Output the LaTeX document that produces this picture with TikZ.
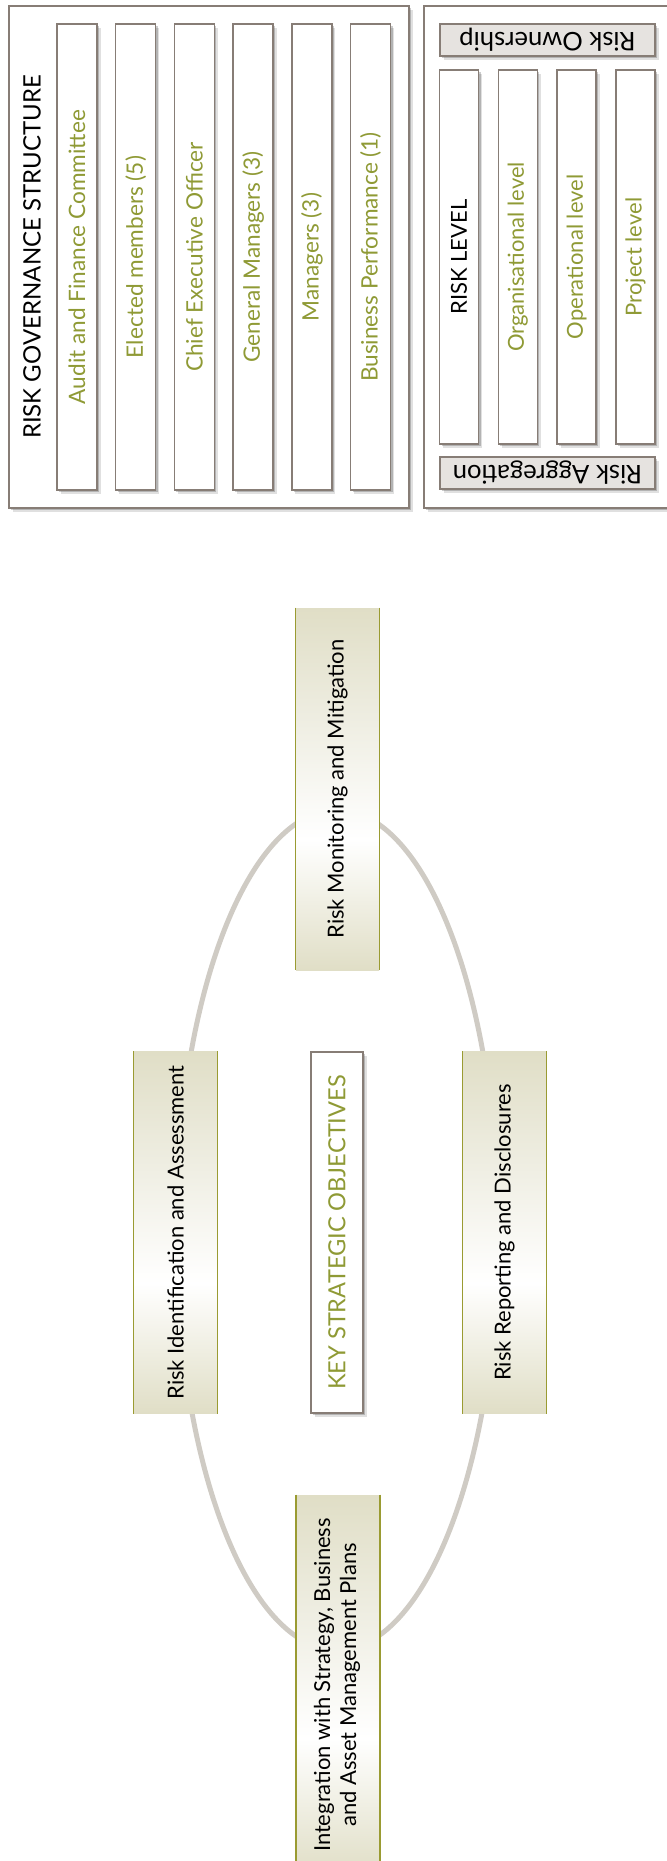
\documentclass[tikz,border=0pt]{standalone}
\usepackage{fontspec}
\setmainfont{Lato}
\usepackage{graphicx}
\usetikzlibrary{shadows}

\definecolor{olivetext}{HTML}{8F9A35}
\definecolor{oliveline}{HTML}{9A9B32}
\definecolor{beige}{HTML}{E0DEC6}
\definecolor{beigelight}{HTML}{EEEDE1}
\definecolor{boxline}{HTML}{877D76}
\definecolor{tagfill}{HTML}{E6E3E0}
\definecolor{ringgray}{HTML}{CFCBC4}

\pgfdeclareverticalshading{stageshade}{100bp}{color(0bp)=(beige); color(25bp)=(beige); color(43bp)=(white); color(60bp)=(beigelight); color(75bp)=(beige); color(100bp)=(beige)}

\newcommand{\vtext}[1]{\rotatebox{90}{#1}}

\tikzset{
    softshadow/.style={drop shadow={shadow xshift=1.8pt, shadow yshift=-1.8pt, fill=black, opacity=0.12},
        drop shadow={shadow xshift=1pt, shadow yshift=-1pt, fill=black, opacity=0.2}},
    panel/.style={draw=boxline, fill=white, line width=0.7pt, softshadow, inner sep=0pt},
    bar/.style={panel, minimum width=20pt, minimum height=233pt, text=olivetext, font=\fontsize{11.3}{13}\selectfont},
    levelbar/.style={panel, minimum width=19.5pt, minimum height=187pt, text=olivetext, font=\fontsize{11}{13}\selectfont},
    tag/.style={panel, fill=tagfill, minimum width=107.5pt, minimum height=16pt, font=\fontsize{12.8}{15}\selectfont},
    stage/.style={shade, shading=stageshade, inner sep=0pt, minimum width=41.5pt, minimum height=181pt, font=\fontsize{11}{13}\selectfont},
    stageedge/.style={draw=oliveline, line width=0.8pt},
    ring/.style={draw=ringgray, line width=2.5pt}
}

\begin{document}
\begin{tikzpicture}[x=0.5pt, y=-0.5pt]
    \useasboundingbox (0,0) rectangle (667,1861);

    % governance structure
    \node[panel, minimum width=200pt, minimum height=251pt] (gov) at (209,257) {};
    \node[font=\fontsize{12}{14}\selectfont] (govtitle) at (32,257) {\vtext{RISK GOVERNANCE STRUCTURE}};
    \foreach \name/\txt [count=\i from 0] in {audit/Audit and Finance Committee, elected/Elected members (5),
            ceo/Chief Executive Officer, genman/General Managers (3), man/Managers (3), busperf/Business Performance (1)}
        \node[bar] (\name) at (77+58.7*\i,257) {\vtext{\txt}};

    % risk levels
    \node[panel, minimum width=138pt, minimum height=251pt] (lvl) at (562,257) {};
    \node[tag] (owner) at (547.5,40) {\rotatebox{180}{Risk Ownership}};
    \node[tag] (aggr) at (547.5,473) {\rotatebox{180}{Risk Aggregation}};
    \node[levelbar, text=black] (risklevel) at (459,257) {\vtext{RISK LEVEL}};
    \foreach \name/\txt [count=\i from 1] in {orglvl/Organisational level, oplvl/Operational level, projlvl/Project level}
        \node[levelbar] (\name) at (459+58.8*\i,257) {\vtext{\txt}};

    % cycle
    \coordinate (hub) at (337,1230);
    \draw[ring] (hub) ellipse [x radius=161, y radius=420];

    \node[stage] (monit) at (337.5,789) {\vtext{Risk Monitoring and Mitigation}};
    \node[stage] (ident) at (175.5,1232.5) {\vtext{Risk Identification and Assessment}};
    \node[stage] (report) at (504.5,1232.5) {\vtext{Risk Reporting and Disclosures}};
    \node[stage, minimum height=190pt] (integ) at (338,1685)
        {\vtext{\begin{tabular}{@{}c@{}}Integration with Strategy, Business\\and Asset Management Plans\end{tabular}}};
    \foreach \s in {monit,ident,report,integ}
        \draw[stageedge] (\s.north west) -- (\s.south west) (\s.north east) -- (\s.south east);

    \node[panel, minimum width=26pt, minimum height=180.5pt, text=olivetext, font=\fontsize{11.8}{14}\selectfont]
        (kso) at (337,1232.5) {\vtext{KEY STRATEGIC OBJECTIVES}};
\end{tikzpicture}
\end{document}
